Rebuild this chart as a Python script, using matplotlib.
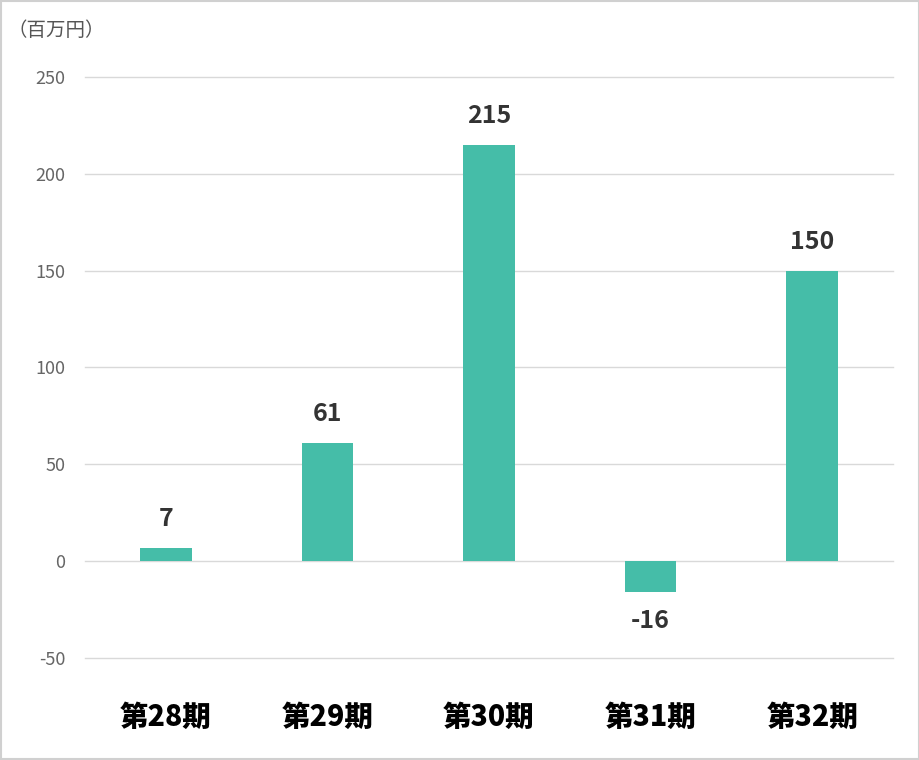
import matplotlib
matplotlib.use("Agg")
import matplotlib.pyplot as plt
from matplotlib.patches import Rectangle

categories = ["第28期", "第29期", "第30期", "第31期", "第32期"]
values = [7, 61, 215, -16, 150]
yticks = [-50, 0, 50, 100, 150, 200, 250]

plt.rcParams['font.family'] = ['Noto Sans CJK JP', 'DejaVu Sans']

fig = plt.figure(figsize=(9.2, 7.6), dpi=100)
ax = fig.add_axes([0.0924, 0.1342, 0.8783, 0.7645])
x = list(range(len(categories)))
bars = ax.bar(x, values, width=0.32, color="#45bda8", zorder=3)
ax.set_xlim(-0.5, len(categories) - 0.5)
ax.set_ylim(-50, 250)
ax.set_yticks(yticks)
ax.set_yticklabels([str(v) for v in yticks], fontsize=13, color="#666666")
ax.grid(axis="y", color="#d9d9d9", linewidth=1, zorder=0)
for gl in ax.get_ygridlines():
    gl.set_clip_on(False)
for s in ax.spines.values():
    s.set_visible(False)
ax.tick_params(axis="y", length=0, pad=14)
ax.tick_params(axis="x", length=0, pad=32)
ax.set_xticks(x)
ax.set_xticklabels(categories, fontsize=20.5, fontweight="black", color="#000000")

for xi, v in zip(x, values):
    if v >= 0:
        ax.annotate(str(v), (xi, v), xytext=(0, 12), textcoords="offset points",
                    ha="center", va="bottom", fontsize=18, fontweight="bold", color="#333333")
    else:
        ax.annotate(str(v), (xi, v), xytext=(0, -12), textcoords="offset points",
                    ha="center", va="top", fontsize=18, fontweight="bold", color="#333333")

fig.text(0.008, 0.960, "（百万円）", fontsize=14, color="#555555", ha="left", va="center")
fig.patches.append(Rectangle((0.001, 0.001), 0.998, 0.998, transform=fig.transFigure,
                             fill=False, edgecolor="#d0d0d0", linewidth=1.5))
fig.savefig("out.png", dpi=100)
